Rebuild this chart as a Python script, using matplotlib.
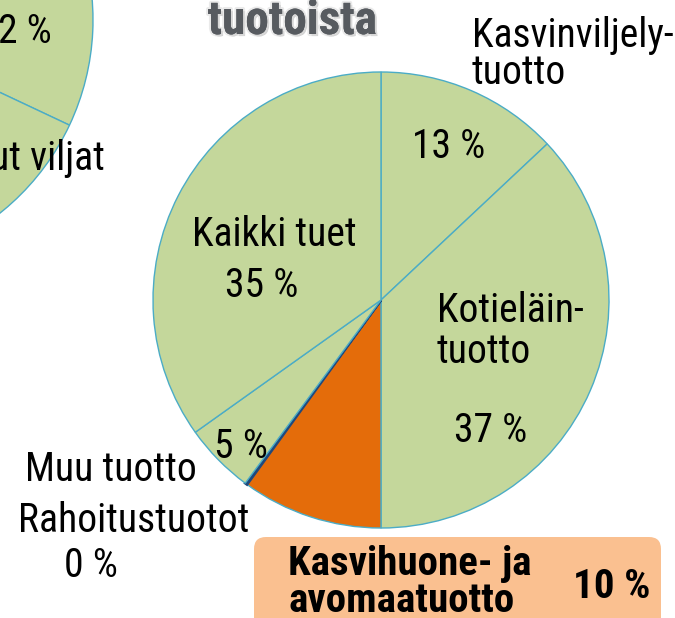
import matplotlib.pyplot as plt
import matplotlib.patheffects as pe
from matplotlib.patches import FancyBboxPatch

# Data
labels = ['Kasvinviljelytuotto', 'Kotieläintuotto', 'Kasvihuone- ja avomaatuotto',
          'Rahoitustuotot', 'Muu tuotto', 'Kaikki tuet']
shares = [13, 37, 10, 0.15, 5, 34.85]
pct_text = ['13 %', '37 %', '10 %', '0 %', '5 %', '35 %']
colors = ['#C4D79B', '#C4D79B', '#E46C0A', '#1F497D', '#C4D79B', '#C4D79B']

# left (cut off) pie: only one boundary is visible
left_shares = [50, 50]

W, H = 675, 618
font = 'Roboto Condensed'

fig = plt.figure(figsize=(W / 100, H / 100), dpi=100)
ax = fig.add_axes([0, 0, 1, 1])

def Y(y):
    return H - y

edge = '#4BACC6'

# left pie
ax.pie(left_shares, colors=['#C4D79B', '#C4D79B'], center=(-154, Y(20)), radius=247,
       startangle=-25.2, counterclock=True,
       wedgeprops=dict(edgecolor=edge, linewidth=1))

# main pie
wedges, _ = ax.pie(shares, colors=colors, center=(381, Y(300)), radius=228,
                   startangle=90, counterclock=False,
                   wedgeprops=dict(edgecolor=edge, linewidth=1))
wedges[3].set_edgecolor('#1F497D')
wedges[3].set_linewidth(2)

ax.set_xlim(0, W)
ax.set_ylim(0, H)
ax.set_aspect('auto')
ax.axis('off')

tx = dict(family=font, fontsize=28.5, color='black', va='baseline')

# title
ax.text(292, Y(34), 'tuotoista', family=font, fontweight='bold',
        fontsize=34, color='#575B60', ha='center', va='baseline',
        path_effects=[pe.withSimplePatchShadow(offset=(1.5, -1.5), shadow_rgbFace='#999999', alpha=0.45),
                      pe.withStroke(linewidth=3, foreground='#dddddd', alpha=0.6),
                      pe.Normal()])

# left pie labels
ax.text(-2, Y(43), '2 %', ha='left', **tx)
ax.text(-10, Y(170), 'ut viljat', ha='left', **tx)

# main pie labels
ax.text(472, Y(47), 'Kasvinviljely-', ha='left', **tx)
ax.text(472, Y(84), 'tuotto', ha='left', **tx)
ax.text(449, Y(158), pct_text[0], ha='center', **tx)

ax.text(437, Y(322), 'Kotieläin-', ha='left', **tx)
ax.text(437, Y(363), 'tuotto', ha='left', **tx)
ax.text(491, Y(442), pct_text[1], ha='center', **tx)

ax.text(274, Y(246), 'Kaikki tuet', ha='center', **tx)
ax.text(262, Y(297), pct_text[5], ha='center', **tx)

ax.text(241, Y(458), pct_text[4], ha='center', **tx)
ax.text(25, Y(481), 'Muu tuotto', ha='left', **tx)
ax.text(18, Y(532), 'Rahoitustuotot', ha='left', **tx)
ax.text(91, Y(577), pct_text[3], ha='center', **tx)

# highlighted box
box = FancyBboxPatch((254, Y(630)), 407, 93,
                     boxstyle='round,pad=0,rounding_size=12',
                     facecolor='#FAC090', edgecolor='none')
ax.add_patch(box)
tb = dict(tx, fontweight='bold', fontsize=29.5)
ax.text(288, Y(575), 'Kasvihuone- ja', ha='left', **tb)
ax.text(288, Y(612), 'avomaatuotto', ha='left', **tb)
ax.text(612, Y(598), pct_text[2], ha='center', **tb)

fig.savefig('out.png', dpi=100)
